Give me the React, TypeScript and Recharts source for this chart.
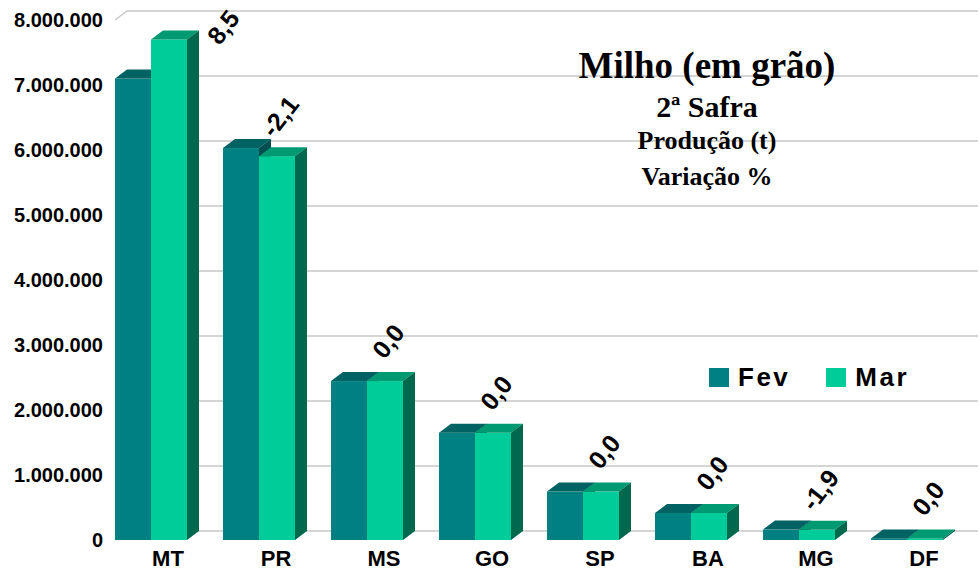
import React from 'react';
import { BarChart, Bar, XAxis, YAxis, CartesianGrid, LabelList } from 'recharts';

const CATEGORIES = ['MT', 'PR', 'MS', 'GO', 'SP', 'BA', 'MG', 'DF'];
const FEV = [7100000, 6030000, 2445000, 1650000, 745000, 415000, 160000, 25000];
const MAR = [7700000, 5905000, 2445000, 1650000, 745000, 415000, 157000, 25000];
const VARIACAO = ['8,5', '-2,1', '0,0', '0,0', '0,0', '0,0', '-1,9', '0,0'];
const Y_TICKS = [0, 1000000, 2000000, 3000000, 4000000, 5000000, 6000000, 7000000, 8000000];
const SERIES = ['Fev', 'Mar'];
const TITLE_LINES = ['Milho (em grão)', '2ª Safra', 'Produção (t)', 'Variação %'];

const data = CATEGORIES.map((uf, i) => ({ uf, Fev: FEV[i], Mar: MAR[i], variacao: VARIACAO[i] }));

const COLORS: Record<string, string> = { Fev: '#008080', Mar: '#00CC99' };

const DX = 12;
const DY = 9;
const SANS = '"Liberation Sans", Arial, sans-serif';
const SERIF = '"Liberation Serif", "Times New Roman", serif';

const fmt = (v: number) => String(v).replace(/\B(?=(\d{3})+(?!\d))/g, '.');

const make3D = (front: string, top: string, side: string) => (props: any) => {
  const { x, y, width, height } = props;
  if (x == null || y == null) return null;
  const b = y + height;
  return (
    <g>
      <rect x={x} y={y} width={width} height={Math.max(height, 0)} fill={front} />
      <polygon points={`${x},${y} ${x + DX},${y - DY} ${x + width + DX},${y - DY} ${x + width},${y}`} fill={top} />
      <polygon points={`${x + width},${y} ${x + width + DX},${y - DY} ${x + width + DX},${b - DY} ${x + width},${b}`} fill={side} />
    </g>
  );
};

const FevShape = make3D(COLORS.Fev, '#006262', '#004f4f');
const MarShape = make3D(COLORS.Mar, '#009a72', '#00684d');

const GridLine = (props: any) => {
  const { x1, y1, x2 } = props;
  const sx = x1 + 18;
  return (
    <path
      key={props.key}
      d={`M${sx},${y1} L${sx + DX},${y1 - DY} L${x2 + 17},${y1 - DY}`}
      stroke="#c8c8c8"
      strokeWidth={1.3}
      fill="none"
    />
  );
};

const YTick = (props: any) => {
  const { x, y, payload } = props;
  return (
    <text x={x + 6} y={y} dy="0.36em" textAnchor="end" fontFamily={SANS} fontWeight="bold" fontSize={20} fill="#000">
      {fmt(payload.value)}
    </text>
  );
};

const XTick = (props: any) => {
  const { x, y, payload } = props;
  return (
    <text x={x + 17} y={y + 26} textAnchor="middle" fontFamily={SANS} fontWeight="bold" fontSize={22} fill="#000">
      {payload.value}
    </text>
  );
};

const VarLabel = (props: any) => {
  const { x, y, width, value } = props;
  let cx = x + width / 2 + 3;
  let cy = y - 40;
  if (cy < 28) {
    cy = 27;
    cx = x + width + 36;
  }
  return (
    <text
      x={cx}
      y={cy}
      textAnchor="middle"
      dominantBaseline="central"
      fontFamily={SANS}
      fontWeight="bold"
      fontSize={25}
      fill="#000"
      transform={`rotate(-52 ${cx} ${cy})`}
    >
      {value}
    </text>
  );
};

export default function App() {
  return (
    <div style={{ position: 'absolute', left: 0, top: 0, width: 980, height: 571, background: '#fff' }}>
      <BarChart
        width={980}
        height={571}
        data={data}
        margin={{ top: 20, right: 19, bottom: 1, left: 0 }}
        barGap={0}
        barSize={36}
      >
        <CartesianGrid vertical={false} horizontal={GridLine as any} stroke="#c8c8c8" />
        <XAxis dataKey="uf" height={30} axisLine={false} tickLine={false} tickSize={0} tickMargin={0} tick={XTick} interval={0} />
        <YAxis
          width={97}
          domain={[0, 8000000]}
          ticks={Y_TICKS}
          axisLine={false}
          tickLine={false}
          tickSize={0}
          tickMargin={0}
          tick={YTick}
          interval={0}
        />
        <Bar dataKey="Fev" fill={COLORS.Fev} shape={FevShape} isAnimationActive={false} />
        <Bar dataKey="Mar" fill={COLORS.Mar} shape={MarShape} isAnimationActive={false}>
          <LabelList dataKey="variacao" content={VarLabel} />
        </Bar>
      </BarChart>
      <div
        style={{
          position: 'absolute',
          left: 709,
          top: 362,
          display: 'flex',
          alignItems: 'center',
          fontFamily: SANS,
          fontWeight: 'bold',
          fontSize: 26,
          color: '#000',
          whiteSpace: 'nowrap',
        }}
      >
        {SERIES.map((s) => (
          <div key={s} style={{ display: 'flex', alignItems: 'center', marginRight: 36 }}>
            <div style={{ width: 20, height: 19, background: COLORS[s], marginRight: 9 }} />
            <span style={{ letterSpacing: 2.5, lineHeight: '30px' }}>{s}</span>
          </div>
        ))}
      </div>
      <svg width={980} height={571} style={{ position: 'absolute', left: 0, top: 0, pointerEvents: 'none' }}>
        <text x={707} y={78} textAnchor="middle" fontFamily={SERIF} fontWeight="bold" fontSize={37} fill="#000">{TITLE_LINES[0]}</text>
        <text x={707} y={117} textAnchor="middle" fontFamily={SERIF} fontWeight="bold" fontSize={30} fill="#000">{TITLE_LINES[1]}</text>
        <text x={707} y={149} textAnchor="middle" fontFamily={SERIF} fontWeight="bold" fontSize={26} fill="#000">{TITLE_LINES[2]}</text>
        <text x={707} y={185} textAnchor="middle" fontFamily={SERIF} fontWeight="bold" fontSize={26} fill="#000">{TITLE_LINES[3]}</text>
      </svg>
    </div>
  );
}
